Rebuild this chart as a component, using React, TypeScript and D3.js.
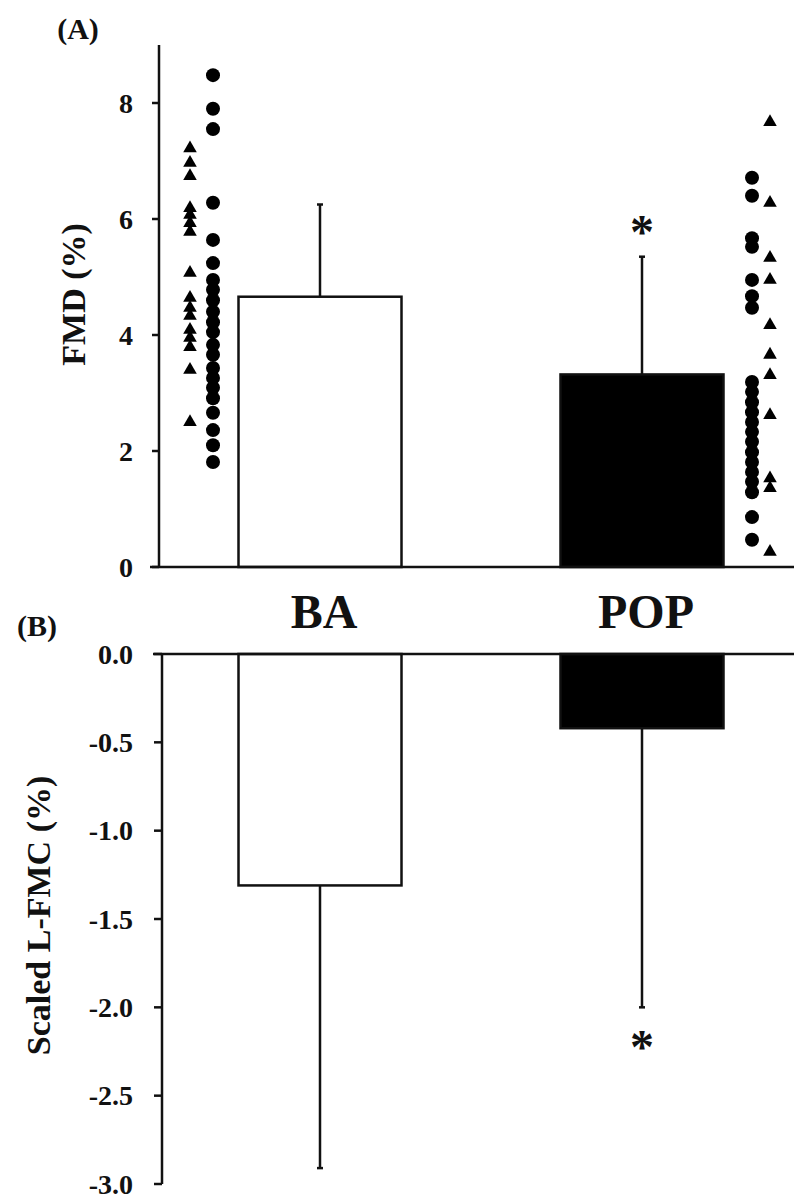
import React from "react";
import * as d3 from "d3";

const categories = ["BA", "POP"];
const fmdMean = [4.66, 3.32];
const fmdSD = [1.59, 2.03];
const lfmcMean = [-1.31, -0.42];
const lfmcSD = [1.6, 1.58];
const fmdTicks = [0, 2, 4, 6, 8];
const lfmcTicks = [0, -0.5, -1.0, -1.5, -2.0, -2.5, -3.0];

const baCircles = [8.48, 7.9, 7.55, 6.28, 5.64, 5.24, 4.95, 4.78, 4.6, 4.4, 4.22, 4.05, 3.83, 3.66, 3.43, 3.26, 3.09, 2.91, 2.66, 2.36, 2.1, 1.81];
const baTriangles = [7.22, 6.97, 6.74, 6.19, 6.07, 5.93, 5.78, 5.07, 4.64, 4.47, 4.33, 4.09, 3.95, 3.79, 3.4, 2.5];
const popCircles = [6.71, 6.4, 5.67, 5.52, 4.95, 4.67, 4.47, 3.19, 3.02, 2.84, 2.67, 2.5, 2.33, 2.16, 1.98, 1.81, 1.64, 1.47, 1.29, 0.86, 0.47];
const popTriangles = [7.67, 6.28, 5.33, 4.95, 4.17, 3.66, 3.31, 2.62, 1.53, 1.36, 0.26];

const FONT = "'Liberation Serif', 'Times New Roman', serif";
const INK = "#111";

export default function App() {
  const x = d3.scalePoint<string>().domain(categories).range([320, 642]);
  const barW = 163;
  const yA = d3.scaleLinear().domain([0, 9]).range([567, 45]);
  const yB = d3.scaleLinear().domain([-3, 0]).range([1184, 654]);
  const axA = 159;
  const axB = 162;
  const tri = d3.symbol().type(d3.symbolTriangle).size(80)() as string;

  const scatter = [
    { cat: "BA", vals: baTriangles, dx: -130, shape: "tri" },
    { cat: "BA", vals: baCircles, dx: -107, shape: "circle" },
    { cat: "POP", vals: popCircles, dx: 110, shape: "circle" },
    { cat: "POP", vals: popTriangles, dx: 128, shape: "tri" },
  ];

  return (
    <svg width={794} height={1201} style={{ position: "absolute", left: 0, top: 0, background: "#fff" }} fontFamily={FONT} fontWeight="bold">
      {/* Panel A */}
      <text x={78} y={39} fontSize={30} textAnchor="middle" fill={INK}>(A)</text>
      <text transform={`translate(85,${yA(4.7)}) rotate(-90)`} fontSize={34} textAnchor="middle" fill={INK}>FMD (%)</text>
      {categories.map((c, i) => (
        <g key={"a" + c}>
          <line x1={x(c)!} x2={x(c)!} y1={yA(fmdMean[i])} y2={yA(fmdMean[i] + fmdSD[i])} stroke={INK} strokeWidth={2.5} />
          <line x1={x(c)! - 3} x2={x(c)! + 3} y1={yA(fmdMean[i] + fmdSD[i])} y2={yA(fmdMean[i] + fmdSD[i])} stroke={INK} strokeWidth={2.5} />
          <rect x={x(c)! - barW / 2} y={yA(fmdMean[i])} width={barW} height={yA(0) - yA(fmdMean[i])} fill={i === 0 ? "#fff" : "#000"} stroke={INK} strokeWidth={2.5} />
        </g>
      ))}
      <text x={x("POP")!} y={yA(fmdMean[1] + fmdSD[1]) - 9} fontSize={48} textAnchor="middle" fill={INK}>*</text>
      {scatter.map((s) =>
        s.vals.map((v, j) =>
          s.shape === "circle" ? (
            <circle key={s.cat + s.shape + j} cx={x(s.cat)! + s.dx} cy={yA(v)} r={7} fill="#000" />
          ) : (
            <path key={s.cat + s.shape + j} d={tri} transform={`translate(${x(s.cat)! + s.dx},${yA(v)})`} fill="#000" />
          )
        )
      )}
      <line x1={axA} x2={axA} y1={yA(9)} y2={yA(0)} stroke={INK} strokeWidth={2.5} />
      <line x1={150} x2={794} y1={yA(0)} y2={yA(0)} stroke={INK} strokeWidth={2.5} />
      {fmdTicks.map((t) => (
        <g key={"ta" + t}>
          <line x1={axA - 7} x2={axA} y1={yA(t)} y2={yA(t)} stroke={INK} strokeWidth={2.5} />
          <text x={133} y={yA(t)} dy="0.35em" fontSize={28} textAnchor="end" fill={INK}>{t}</text>
        </g>
      ))}
      {categories.map((c) => (
        <text key={"lab" + c} x={x(c)! + 4} y={628} fontSize={48} textAnchor="middle" fill={INK}>{c}</text>
      ))}

      {/* Panel B */}
      <text x={37} y={636} fontSize={30} textAnchor="middle" fill={INK}>(B)</text>
      <text transform={`translate(50,${yB(-1.48)}) rotate(-90)`} fontSize={34} textAnchor="middle" fill={INK}>Scaled L-FMC (%)</text>
      {categories.map((c, i) => (
        <g key={"b" + c}>
          <line x1={x(c)!} x2={x(c)!} y1={yB(lfmcMean[i])} y2={yB(lfmcMean[i] - lfmcSD[i])} stroke={INK} strokeWidth={2.5} />
          <line x1={x(c)! - 3} x2={x(c)! + 3} y1={yB(lfmcMean[i] - lfmcSD[i])} y2={yB(lfmcMean[i] - lfmcSD[i])} stroke={INK} strokeWidth={2.5} />
          <rect x={x(c)! - barW / 2} y={yB(0)} width={barW} height={yB(lfmcMean[i]) - yB(0)} fill={i === 0 ? "#fff" : "#000"} stroke={INK} strokeWidth={2.5} />
        </g>
      ))}
      <text x={x("POP")!} y={yB(lfmcMean[1] - lfmcSD[1]) + 56} fontSize={48} textAnchor="middle" fill={INK}>*</text>
      <line x1={axB} x2={axB} y1={yB(0)} y2={yB(-3)} stroke={INK} strokeWidth={2.5} />
      <line x1={153} x2={794} y1={yB(0)} y2={yB(0)} stroke={INK} strokeWidth={2.5} />
      {lfmcTicks.map((t) => (
        <g key={"tb" + t}>
          <line x1={axB - 8} x2={axB} y1={yB(t)} y2={yB(t)} stroke={INK} strokeWidth={2.5} />
          <text x={133} y={yB(t)} dy="0.35em" fontSize={28} textAnchor="end" fill={INK}>{d3.format(".1f")(t).replace("−", "-")}</text>
        </g>
      ))}
    </svg>
  );
}
